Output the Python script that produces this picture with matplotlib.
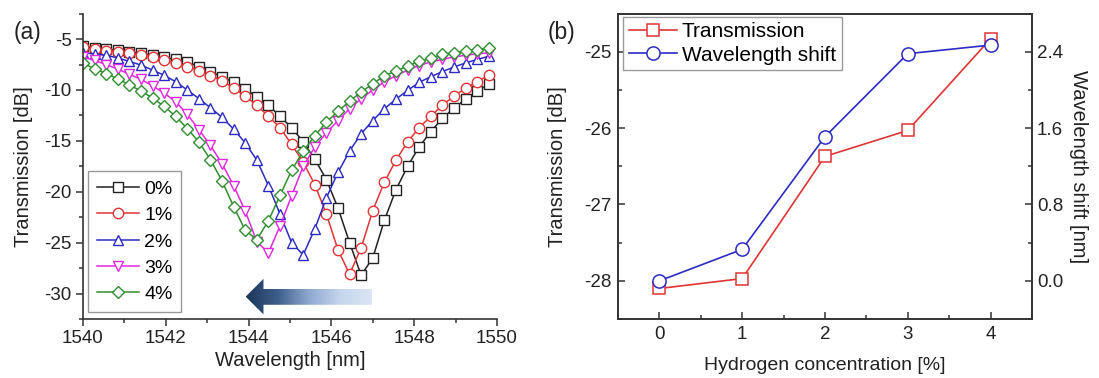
import numpy as np
import matplotlib
matplotlib.use("Agg")
import matplotlib.pyplot as plt
from matplotlib.patches import Polygon
from matplotlib.colors import LinearSegmentedColormap
from matplotlib.ticker import MultipleLocator

plt.rcParams['font.family'] = ['Liberation Sans', 'DejaVu Sans']
plt.rcParams['axes.unicode_minus'] = False

# panel (a): transmission spectra for each hydrogen concentration
wavelength = [1540.00, 1540.28, 1540.56, 1540.84, 1541.12, 1541.40, 1541.68, 1541.96,
              1542.24, 1542.52, 1542.80, 1543.08, 1543.36, 1543.64, 1543.92, 1544.20,
              1544.48, 1544.76, 1545.04, 1545.32, 1545.60, 1545.88, 1546.16, 1546.44,
              1546.72, 1547.00, 1547.28, 1547.56, 1547.84, 1548.12, 1548.40, 1548.68,
              1548.96, 1549.24, 1549.52, 1549.80]

trans_0 = [-5.7, -5.9, -6.0, -6.1, -6.25, -6.4, -6.6, -6.8, -7.0, -7.25, -7.7, -8.2,
           -8.7, -9.25, -9.95, -10.65, -11.5, -12.6, -13.7, -15.1, -16.8, -18.8, -21.6, -25.0,
           -28.2, -26.5, -22.8, -19.8, -17.5, -15.6, -14.1, -12.8, -11.8, -10.9, -10.1, -9.45]
trans_1 = [-5.8, -6.0, -6.15, -6.25, -6.4, -6.6, -6.8, -7.05, -7.35, -7.7, -8.1, -8.6,
           -9.1, -9.8, -10.6, -11.5, -12.6, -13.7, -15.35, -17.1, -19.3, -22.2, -25.7, -28.1,
           -25.5, -21.85, -19.05, -16.9, -15.1, -13.7, -12.6, -11.5, -10.6, -9.85, -9.2, -8.55]
trans_2 = [-6.35, -6.45, -6.6, -6.85, -7.2, -7.55, -8.05, -8.55, -9.2, -10.0, -10.85, -11.75,
           -12.7, -13.85, -15.2, -16.9, -19.4, -22.2, -25.0, -26.2, -23.65, -20.6, -18.1, -16.0,
           -14.3, -13.0, -11.85, -10.9, -10.05, -9.25, -8.7, -8.2, -7.75, -7.35, -7.0, -6.7]
trans_3 = [-6.75, -7.1, -7.5, -7.95, -8.45, -8.95, -9.6, -10.3, -11.15, -12.4, -13.9, -15.45,
           -17.25, -19.4, -21.9, -24.9, -26.0, -23.35, -20.4, -17.5, -15.6, -14.2, -13.0, -11.85,
           -10.85, -10.0, -9.2, -8.6, -8.05, -7.6, -7.25, -7.0, -6.75, -6.6, -6.45, -6.35]
trans_4 = [-7.4, -7.9, -8.4, -8.9, -9.5, -10.1, -10.8, -11.6, -12.6, -13.8, -15.1, -16.85,
           -18.95, -21.45, -23.8, -24.7, -22.85, -20.35, -17.9, -16.0, -14.5, -13.15, -12.1, -11.1,
           -10.2, -9.4, -8.6, -8.15, -7.65, -7.2, -6.9, -6.5, -6.35, -6.2, -6.05, -5.85]

labels_a = ['0%', '1%', '2%', '3%', '4%']

# panel (b): dip transmission and wavelength shift vs concentration
conc = [0, 1, 2, 3, 4]
dip_trans = [-28.1, -27.97, -26.37, -26.03, -24.83]
wl_shift = [0.0, 0.33, 1.51, 2.38, 2.47]

colors = ['#222222', '#e03434', '#2b2bc4', '#e028e0', '#2f8f2f']
markers = ['s', 'o', '^', 'v', 'D']
msizes = [7, 7.5, 7.5, 7.5, 6.5]

fig = plt.figure(figsize=(10.99, 3.78), dpi=100)
axa = fig.add_axes([0.0755, 0.156, 0.3767, 0.808])
axb = fig.add_axes([0.5623, 0.156, 0.3767, 0.808])

spine_col = '#333333'
txt_col = '#222222'

# ---- panel (a)
series = [trans_0, trans_1, trans_2, trans_3, trans_4]
for s, c, m, ms, lab in zip(series, colors, markers, msizes, labels_a):
    axa.plot(wavelength, s, color=c, marker=m, ms=ms, mfc='white', mec=c,
             mew=1.0, lw=1.1, label=lab)

axa.xaxis.set_major_locator(MultipleLocator(2))
axa.xaxis.set_minor_locator(MultipleLocator(1))
axa.yaxis.set_major_locator(MultipleLocator(5))
axa.yaxis.set_minor_locator(MultipleLocator(2.5))
axa.spines['top'].set_visible(False)
axa.spines['right'].set_visible(False)
for sp in ['left', 'bottom']:
    axa.spines[sp].set_color(spine_col)
    axa.spines[sp].set_linewidth(1.2)
axa.tick_params(which='both', direction='out', colors=spine_col, labelcolor=txt_col,
                labelsize=13.5, width=1.1)
axa.tick_params(which='major', length=5, pad=3)
axa.tick_params(which='minor', length=3)
axa.set_xlabel('Wavelength [nm]', fontsize=14.5, color=txt_col)
axa.set_ylabel('Transmission [dB]', fontsize=14.5, color=txt_col)
axa.xaxis.set_label_coords(0.5, -0.105)
axa.yaxis.set_label_coords(-0.121, 0.5)

leg = axa.legend(loc='lower left', bbox_to_anchor=(0.012, 0.023), borderaxespad=0,
                 fontsize=14, handlelength=2.2, handletextpad=0.25, labelspacing=0.45,
                 borderpad=0.45, fancybox=False, framealpha=1, edgecolor='#999999')
leg.get_frame().set_linewidth(1.0)

# gradient arrow showing the blue shift
arrow_x = [1543.93, 1544.36, 1544.36, 1546.98, 1546.98, 1544.36, 1544.36]
arrow_y = [-30.3, -28.55, -29.55, -29.55, -31.1, -31.1, -32.05]
arrow = Polygon(list(zip(arrow_x, arrow_y)), closed=True, facecolor='none', edgecolor='none')
axa.add_patch(arrow)
grad_cmap = LinearSegmentedColormap.from_list(
    'arr', ['#1c3558', '#3d5f8c', '#8faad0', '#c6d6ee', '#dbe6f5'])
grad = np.linspace(0, 1, 256).reshape(1, -1)
img = axa.imshow(grad, cmap=grad_cmap, aspect='auto',
                 extent=[1543.93, 1546.98, -32.05, -28.55], zorder=1)
img.set_clip_path(arrow)
axa.set_xlim(1540, 1550)
axa.set_ylim(-32.5, -2.5)

# ---- panel (b)
axb2 = axb.twinx()
l1, = axb.plot(conc, dip_trans, color=colors[1], marker='s', ms=9, mfc='white',
               mec=colors[1], mew=1.1, lw=1.2, label='Transmission')
l2, = axb2.plot(conc, wl_shift, color=colors[2], marker='o', ms=9.5, mfc='white',
                mec=colors[2], mew=1.1, lw=1.2, label='Wavelength shift')

axb.set_xlim(-0.5, 4.5)
axb.set_ylim(-28.5, -24.5)
axb2.set_ylim(-0.4, 2.8)
axb.xaxis.set_major_locator(MultipleLocator(1))
axb.xaxis.set_minor_locator(MultipleLocator(0.5))
axb.yaxis.set_major_locator(MultipleLocator(1))
axb.yaxis.set_minor_locator(MultipleLocator(0.5))
axb2.yaxis.set_minor_locator(MultipleLocator(0.4))
axb2.set_yticks([0.0, 0.8, 1.6, 2.4])
axb2.set_yticklabels(['0.0', '0.8', '1.6', '2.4'])

for a in (axb, axb2):
    for sp in a.spines.values():
        sp.set_color(spine_col)
        sp.set_linewidth(1.2)
    a.tick_params(which='both', direction='in', colors=spine_col, labelcolor=txt_col,
                  labelsize=13.5, width=1.1)
    a.tick_params(which='major', length=5, pad=5)
    a.tick_params(which='minor', length=3)
axb2.tick_params(which='major', pad=3.5)

axb.set_xlabel('Hydrogen concentration [%]', fontsize=14, color=txt_col)
axb.set_ylabel('Transmission [dB]', fontsize=14.5, color=txt_col)
axb2.set_ylabel('Wavelength shift [nm]', fontsize=14.5, color=txt_col, rotation=-90)
axb.xaxis.set_label_coords(0.5, -0.125)
axb.yaxis.set_label_coords(-0.122, 0.5)
axb2.yaxis.set_label_coords(1.135, 0.5)

legb = axb2.legend([l1, l2], ['Transmission', 'Wavelength shift'], loc='upper left',
                   bbox_to_anchor=(0.012, 0.99), borderaxespad=0, fontsize=15,
                   handlelength=2.3, handletextpad=0.25, labelspacing=0.2, borderpad=0.28,
                   fancybox=False, framealpha=1, edgecolor='#999999')
legb.get_frame().set_linewidth(1.0)

fig.text(0.012, 0.915, '(a)', fontsize=16.5, va='center', color=txt_col)
fig.text(0.4986, 0.915, '(b)', fontsize=16.5, va='center', color=txt_col)

fig.savefig('out.png', dpi=100)
